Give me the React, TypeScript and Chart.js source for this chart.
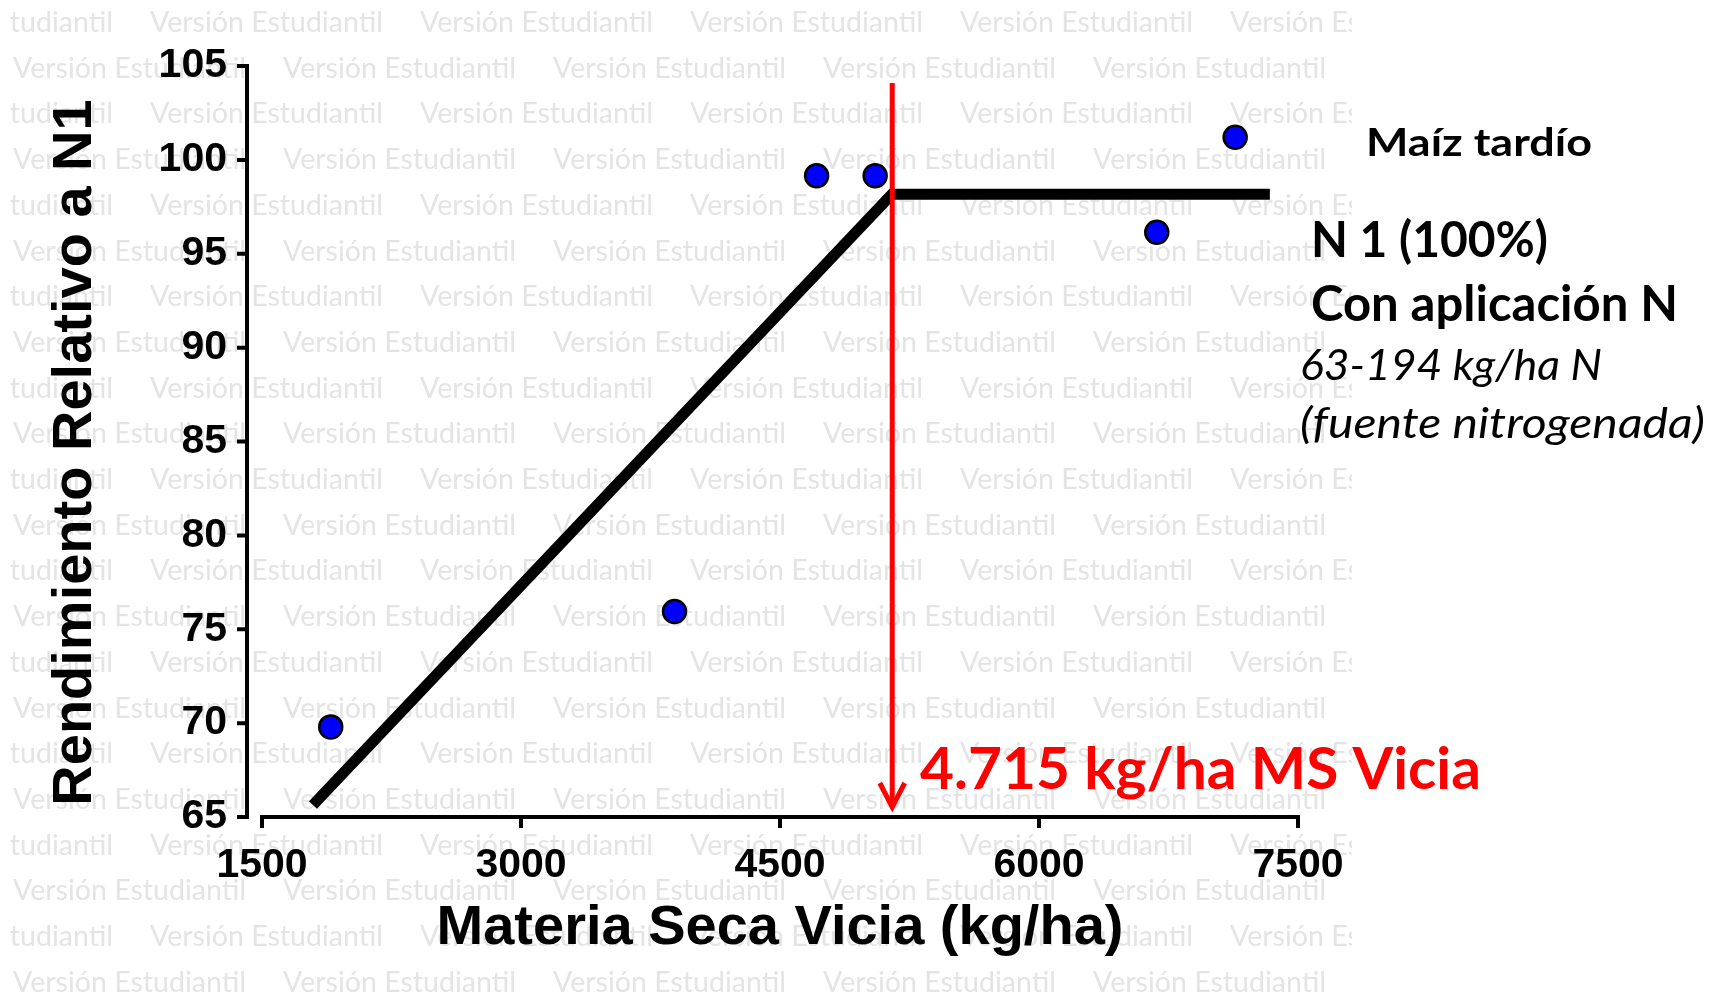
import React, { useEffect, useRef } from "react";
import { Chart, registerables } from "chart.js";

Chart.register(...registerables);

// ---------- data ----------
const X_TICKS = [1500, 3000, 4500, 6000, 7500];
const X_MIN = 1500;
const X_MAX = 7500;
const Y_MIN = 65;
const Y_MAX = 105;
const Y_STEP = 5;

const obsX = [1898, 3889, 4712, 5051, 6682, 7136];
const obsY = [69.8, 75.95, 99.15, 99.15, 96.15, 101.2];

const fitX = [1795, 5148, 7337];
const fitY = [65.64, 98.17, 98.17];

const breakX = [5150, 5150];
const breakY = [104.1, 65.53];

const arrowX = [5078, 5150, 5222];
const arrowY = [66.81, 65.53, 66.81];

const X_TITLE = "Materia Seca Vicia (kg/ha)";
const Y_TITLE = "Rendimiento Relativo a N1";
const WATERMARK = "Versión Estudiantil";

const NOTES = [
  { text: "Maíz tardío", x: 1366, y: 156, font: "bold 39px Lato", w: 226, color: "#000" },
  { text: "N 1 (100%)", x: 1311, y: 257, font: "bold 50px Lato", w: 237, color: "#000" },
  { text: "Con aplicación N", x: 1311, y: 321, font: "bold 50px Lato", w: 367, color: "#000" },
  { text: "63-194 kg/ha N", x: 1300, y: 380, font: "italic 42px Lato", w: 302, color: "#000" },
  { text: "(fuente nitrogenada)", x: 1300, y: 438, font: "italic 42px Lato", w: 405, color: "#000" },
  { text: "4.715 kg/ha MS Vicia", x: 920, y: 789, font: "bold 57px Lato", w: 561, color: "#ff0000" },
];

const pts = (xs: number[], ys: number[]) => xs.map((x, i) => ({ x, y: ys[i] }));

const TITLE_FONT = "bold 56px 'Liberation Sans', Arial, sans-serif";

const watermarkPlugin = {
  id: "watermark",
  beforeDraw(chart: any) {
    const ctx = chart.ctx;
    ctx.save();
    ctx.beginPath();
    ctx.rect(10, 0, 1342, chart.height);
    ctx.clip();
    ctx.fillStyle = "#e4e4e4";
    ctx.font = "28px Lato";
    ctx.textBaseline = "alphabetic";
    ctx.textAlign = "left";
    const w = ctx.measureText(WATERMARK).width;
    const sx = 233 / w;
    for (let r = 0; r < 22; r++) {
      const base = 22 + 45.7 * r + 10;
      const start = r % 2 === 0 ? -120 : 13;
      for (let x = start; x < 1352; x += 270) {
        ctx.save();
        ctx.translate(x, base);
        ctx.scale(sx, 1);
        ctx.fillText(WATERMARK, 0, 0);
        ctx.restore();
      }
    }
    ctx.restore();
  },
};

const axesPlugin = {
  id: "offsetAxes",
  beforeDatasetsDraw(chart: any) {
    const ctx = chart.ctx;
    const xs = chart.scales.x;
    const ys = chart.scales.y;
    const area = chart.chartArea;
    ctx.save();
    ctx.strokeStyle = "#000";
    ctx.lineWidth = 4;
    ctx.lineCap = "butt";
    // y axis (offset from the plot area)
    const ax = area.left - 15;
    ctx.beginPath();
    ctx.moveTo(ax, ys.getPixelForValue(Y_MAX) - 2);
    ctx.lineTo(ax, ys.getPixelForValue(Y_MIN) + 2);
    ys.ticks.forEach((t: any) => {
      const py = ys.getPixelForValue(t.value);
      ctx.moveTo(ax - 10, py);
      ctx.lineTo(ax, py);
    });
    ctx.stroke();
    // x axis
    const ay = area.bottom;
    ctx.beginPath();
    ctx.moveTo(xs.getPixelForValue(X_MIN) - 2, ay);
    ctx.lineTo(xs.getPixelForValue(X_MAX) + 2, ay);
    xs.ticks.forEach((t: any) => {
      const px = xs.getPixelForValue(t.value);
      ctx.moveTo(px, ay);
      ctx.lineTo(px, ay + 11);
    });
    ctx.stroke();
    // y axis title
    ctx.fillStyle = "#000";
    ctx.font = TITLE_FONT;
    ctx.textAlign = "center";
    ctx.textBaseline = "middle";
    ctx.translate(76, (area.top + area.bottom) / 2 + 11);
    ctx.rotate(-Math.PI / 2);
    ctx.fillText(Y_TITLE, 0, 0);
    ctx.restore();
  },
};

const notesPlugin = {
  id: "notes",
  afterDraw(chart: any) {
    const ctx = chart.ctx;
    ctx.save();
    ctx.textBaseline = "alphabetic";
    ctx.textAlign = "left";
    NOTES.forEach((n) => {
      ctx.font = n.font;
      ctx.fillStyle = n.color;
      const w = ctx.measureText(n.text).width;
      ctx.save();
      ctx.translate(n.x, n.y);
      ctx.scale(n.w / w, 1);
      ctx.fillText(n.text, 0, 0);
      ctx.restore();
    });
    ctx.restore();
  },
};

export default function App() {
  const ref = useRef<HTMLCanvasElement | null>(null);

  useEffect(() => {
    document.body.style.margin = "0";
    const canvas = ref.current;
    if (!canvas) return;
    const chart = new Chart(canvas, {
      type: "scatter",
      data: {
        datasets: [
          {
            type: "scatter",
            label: "Observado",
            data: pts(obsX, obsY),
            backgroundColor: "#0000ff",
            borderColor: "#000000",
            borderWidth: 2.5,
            pointRadius: 11.5,
            pointHoverRadius: 11.5,
            order: 0,
          },
          {
            type: "line",
            label: "Umbral",
            data: pts(breakX, breakY),
            borderColor: "#ff0000",
            borderWidth: 5,
            pointRadius: 0,
            fill: false,
            order: 1,
          },
          {
            type: "line",
            label: "Flecha",
            data: pts(arrowX, arrowY),
            borderColor: "#ff0000",
            borderWidth: 5,
            pointRadius: 0,
            fill: false,
            borderJoinStyle: "miter",
            order: 1,
          },
          {
            type: "line",
            label: "Ajuste",
            data: pts(fitX, fitY),
            borderColor: "#000000",
            borderWidth: 11,
            pointRadius: 0,
            fill: false,
            borderCapStyle: "butt",
            borderJoinStyle: "miter",
            tension: 0,
            order: 2,
          },
        ],
      },
      options: {
        animation: false,
        responsive: true,
        maintainAspectRatio: false,
        devicePixelRatio: 1,
        layout: { padding: { left: 0, top: 66, right: 413, bottom: 0 } },
        plugins: {
          legend: { display: false },
          tooltip: { enabled: false },
        },
        events: [],
        scales: {
          x: {
            type: "linear",
            min: X_MIN,
            max: X_MAX,
            afterBuildTicks: (s: any) => {
              s.ticks = X_TICKS.map((v) => ({ value: v }));
            },
            afterFit: (s: any) => {
              s.height = 179;
            },
            grid: { display: false },
            border: { display: false },
            ticks: {
              color: "#000",
              padding: 16,
              maxRotation: 0,
              autoSkip: false,
              callback: (v: any) => String(v),
              font: { family: "'Liberation Sans', Arial, sans-serif", weight: "bold", size: 41 },
            },
            title: {
              display: true,
              text: X_TITLE,
              color: "#000",
              padding: { top: 0, bottom: 34 },
              font: { family: "'Liberation Sans', Arial, sans-serif", weight: "bold", size: 56 },
            },
          },
          y: {
            type: "linear",
            min: Y_MIN,
            max: Y_MAX,
            afterFit: (s: any) => {
              s.width = 262;
            },
            grid: { display: false },
            border: { display: false },
            ticks: {
              stepSize: Y_STEP,
              color: "#000",
              padding: 27,
              callback: (v: any) => String(v),
              font: { family: "'Liberation Sans', Arial, sans-serif", weight: "bold", size: 41 },
            },
            title: { display: false, text: Y_TITLE },
          },
        },
      },
      plugins: [watermarkPlugin, axesPlugin, notesPlugin],
    } as any);
    return () => chart.destroy();
  }, []);

  return (
    <div style={{ position: "fixed", left: 0, top: 0, width: 1711, height: 996, background: "#fff" }}>
      <canvas ref={ref} />
    </div>
  );
}
